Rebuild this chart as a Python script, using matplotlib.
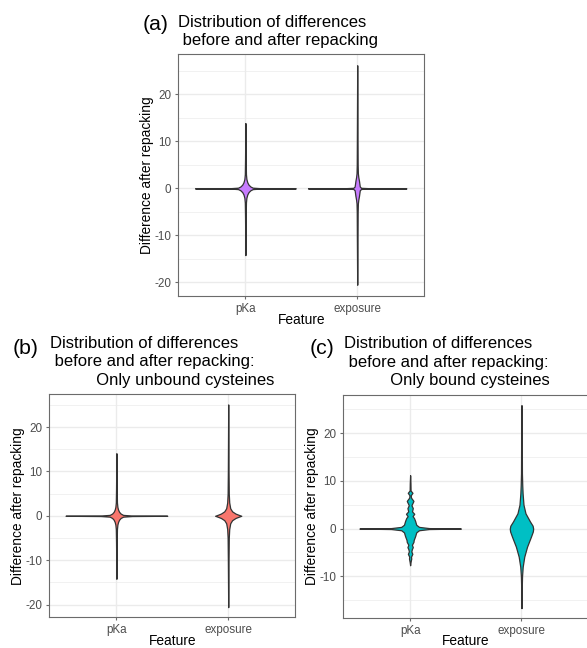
import matplotlib
matplotlib.use("Agg")
import matplotlib.pyplot as plt
from matplotlib.ticker import MultipleLocator

plt.rcParams['font.family'] = ['Liberation Sans', 'DejaVu Sans']
plt.rcParams['axes.unicode_minus'] = False

# ---------------- data ----------------
features = ["pKa", "exposure"]

# violin outlines: y values and half-widths (x data units) per violin
a_pka_y = [-14.2, -6, -3, -2, -1.3, -0.8, -0.4, -0.15, -0.05, 0, 0.05, 0.15, 0.4, 0.8, 1.3, 2, 3, 6, 13.9]
a_pka_w = [0, 0.003, 0.005, 0.009, 0.017, 0.028, 0.045, 0.066, 0.13, 0.45, 0.13, 0.066, 0.045, 0.028, 0.017, 0.009, 0.005, 0.003, 0]
a_exp_y = [-20.5, -10, -5, -3.2, -2.4, -1.6, -0.9, -0.4, -0.12, -0.04, 0, 0.04, 0.12, 0.4, 0.9, 1.6, 2.4, 3.2, 5, 10, 26.2]
a_exp_w = [0, 0.003, 0.004, 0.006, 0.010, 0.016, 0.020, 0.023, 0.035, 0.11, 0.44, 0.11, 0.035, 0.023, 0.020, 0.016, 0.010, 0.006, 0.004, 0.003, 0]

b_pka_y = [-14.2, -6, -3, -2, -1.4, -0.9, -0.5, -0.2, -0.06, 0, 0.06, 0.2, 0.5, 0.9, 1.4, 2, 3, 6, 14.1]
b_pka_w = [0, 0.003, 0.005, 0.009, 0.015, 0.024, 0.038, 0.06, 0.14, 0.455, 0.14, 0.06, 0.038, 0.024, 0.015, 0.009, 0.005, 0.003, 0]
b_exp_y = [-20.6, -10, -5, -3, -1.7, -1.0, -0.5, -0.25, 0, 0.25, 0.5, 1.0, 1.7, 3, 5, 10, 25.1]
b_exp_w = [0, 0.003, 0.005, 0.009, 0.018, 0.035, 0.065, 0.09, 0.117, 0.09, 0.065, 0.035, 0.018, 0.009, 0.005, 0.003, 0]

c_pka_y = [-7.7, -7.0, -6.3, -5.9, -5.3, -4.8, -4.3, -3.9, -3.4, -2.8, -2.4, -1.6, -0.8, -0.35, -0.1, 0,
           0.1, 0.35, 0.8, 1.6, 2.2, 2.6, 3.1, 3.6, 4.3, 4.9, 5.8, 6.5, 7.0, 7.5, 8.0, 9.5, 11.2]
c_pka_w = [0, 0.004, 0.010, 0.008, 0.02, 0.011, 0.016, 0.024, 0.016, 0.03, 0.032, 0.045, 0.055, 0.08, 0.17, 0.455,
           0.17, 0.08, 0.055, 0.045, 0.035, 0.022, 0.037, 0.017, 0.024, 0.012, 0.03, 0.008, 0.006, 0.021, 0.004, 0.003, 0]
c_exp_y = [-16.7, -12, -10, -8, -5.9, -3.8, -1.7, -0.6, 0, 0.6, 1.5, 3.2, 5, 7.4, 9, 11.6, 18, 25.9]
c_exp_w = [0, 0.003, 0.005, 0.011, 0.025, 0.05, 0.085, 0.102, 0.105, 0.1, 0.076, 0.036, 0.018, 0.010, 0.007, 0.004, 0.003, 0]

a_ticks = [-20, -10, 0, 10, 20]
b_ticks = [-20, -10, 0, 10, 20]
c_ticks = [-10, 0, 10, 20]

title_a = ["Distribution of differences", " before and after repacking"]
title_b = ["Distribution of differences", " before and after repacking:", "          Only unbound cysteines"]
title_c = ["Distribution of differences", " before and after repacking:", "          Only bound cysteines"]

# ---------------- layout ----------------
W, H = 587, 648
fig = plt.figure(figsize=(W / 100, H / 100), dpi=100)


def rect(l, t, r, b):
    return [l / W, 1 - b / H, (r - l) / W, (b - t) / H]


def ftext(x, y, s, **kw):
    fig.text(x / W, 1 - y / H, s, va='baseline', ha='left', **kw)


BORDER = '#6b6b6b'
GRID = '#EBEBEB'


def panel(r, violins, color, ticks, xlab_off):
    ax = fig.add_axes(rect(*r))
    ax.set_facecolor('white')
    for i, (ys, ws) in enumerate(violins):
        c = i + 1
        ax.fill_betweenx(ys, [c - w for w in ws], [c + w for w in ws],
                         facecolor=color, edgecolor='#333333', linewidth=0.9, zorder=3)
    ally = [v for ys, _ in violins for v in ys]
    lo, hi = min(ally), max(ally)
    pad = 0.05 * (hi - lo)
    ax.set_ylim(lo - pad, hi + pad)
    ax.set_xlim(0.4, 2.6)
    ax.set_xticks([1, 2])
    ax.set_xticklabels(features)
    ax.set_yticks(ticks)
    ax.yaxis.set_minor_locator(MultipleLocator(5))
    ax.grid(True, which='major', color=GRID, linewidth=1.0, zorder=0)
    ax.grid(True, which='minor', axis='y', color=GRID, linewidth=0.5, zorder=0)
    ax.set_axisbelow(True)
    for s in ax.spines.values():
        s.set_color(BORDER)
        s.set_linewidth(0.8)
    ax.tick_params(which='major', length=2.5, width=0.8, color=BORDER, labelcolor='#4D4D4D',
                   labelsize=8.4, pad=2.5)
    ax.tick_params(which='minor', length=0)
    ax.set_xlabel("Feature", fontsize=9.9, va='top')
    ax.set_ylabel("Difference after repacking", fontsize=9.9)
    axh = (r[3] - r[1])
    axw = (r[2] - r[0])
    ax.xaxis.set_label_coords(0.5, -xlab_off / axh)
    ax.yaxis.set_label_coords(-24 / axw, 0.5)
    return ax


panel((178.3, 54.3, 424.3, 295.7), [(a_pka_y, a_pka_w), (a_exp_y, a_exp_w)], '#C77CFF', a_ticks, 17.5)
panel((49.3, 394.3, 295.3, 617.3), [(b_pka_y, b_pka_w), (b_exp_y, b_exp_w)], '#F8766D', b_ticks, 16.5)
panel((343.3, 395.0, 588.3, 618.3), [(c_pka_y, c_pka_w), (c_exp_y, c_exp_w)], '#00BFC4', c_ticks, 15.5)

# titles
for line, yb in zip(title_a, [26.7, 44.5]):
    ftext(178.5, yb, line, fontsize=12)
for line, yb in zip(title_b, [347.7, 366.4, 385.0]):
    ftext(49.5, yb, line, fontsize=12)
for line, yb in zip(title_c, [348.0, 366.7, 385.3]):
    ftext(343.5, yb, line, fontsize=12)

ftext(142.5, 30.5, "(a)", fontsize=15.3)
ftext(12.5, 354.0, "(b)", fontsize=15.3)
ftext(309.5, 354.0, "(c)", fontsize=15.3)

fig.savefig("out.png", dpi=100)
